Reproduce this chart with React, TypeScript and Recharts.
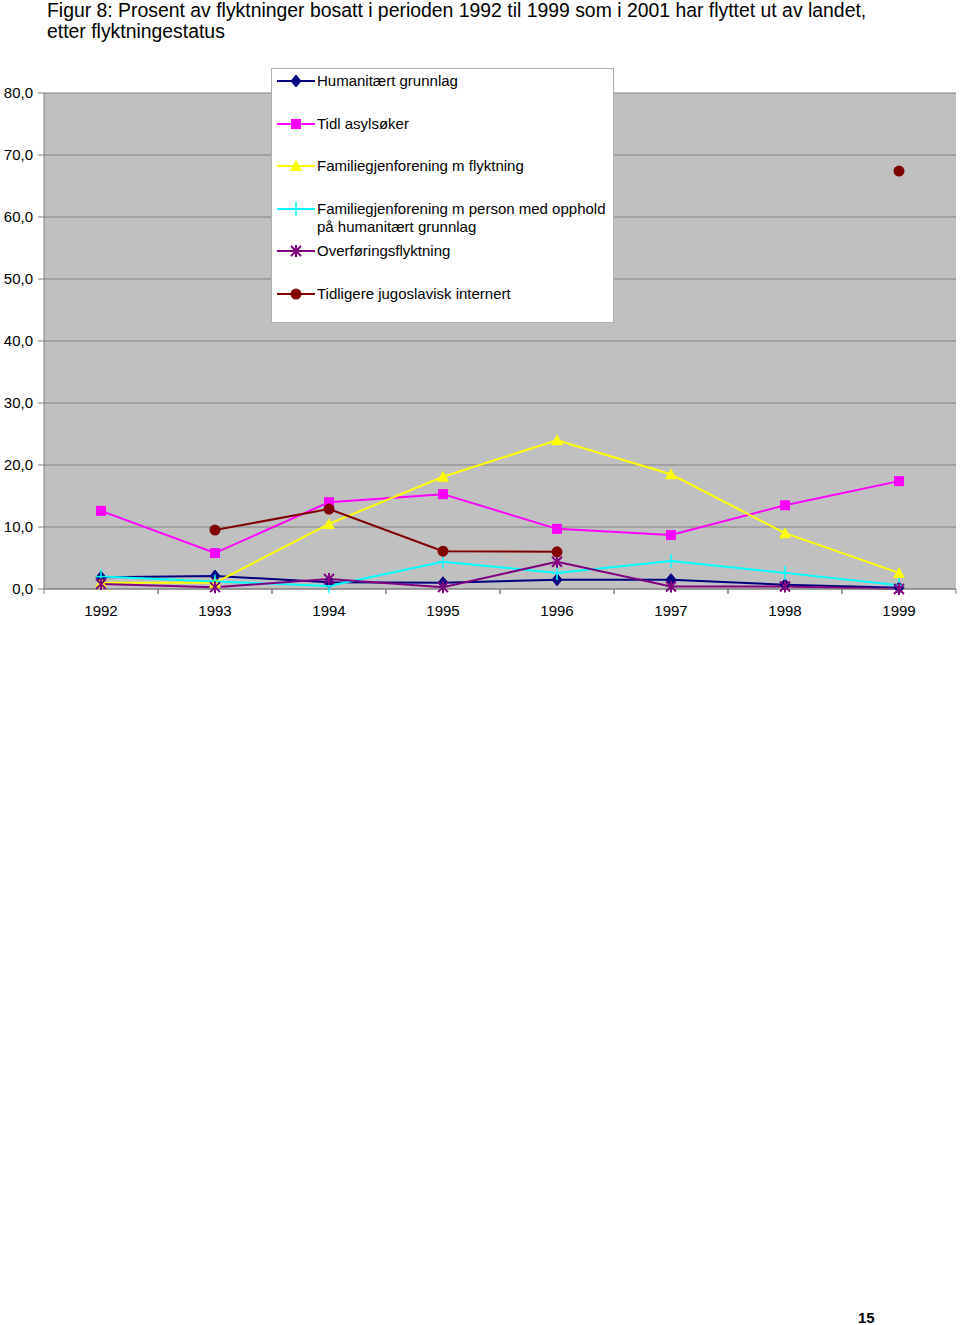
import React from 'react';
import { LineChart, Line, XAxis, YAxis, CartesianGrid, Legend } from 'recharts';

const years = ['1992', '1993', '1994', '1995', '1996', '1997', '1998', '1999'];
const humanitaert = [1.9, 2.1, 1.1, 1.0, 1.5, 1.5, 0.7, 0.2];
const tidlAsyl = [12.6, 5.8, 14.0, 15.3, 9.7, 8.7, 13.5, 17.4];
const famFlyktning = [1.0, 1.0, 10.5, 18.1, 24.0, 18.5, 9.0, 2.6];
const famPerson = [2.0, 1.2, 0.5, 4.4, 2.6, 4.5, 2.6, 0.6];
const overforing = [0.8, 0.3, 1.6, 0.3, 4.4, 0.4, 0.4, 0.0];
const tidligereJugo: (number | null)[] = [null, 9.5, 12.9, 6.1, 6.0, null, null, 67.4];
const yTicks = [0, 10, 20, 30, 40, 50, 60, 70, 80];

const FONT = '"Liberation Sans", Arial, sans-serif';

type Shape = 'diamond' | 'square' | 'triangle' | 'plus' | 'star' | 'circle';

const series: { key: string; name: string; color: string; shape: Shape; values: (number | null)[] }[] = [
  { key: 'hum', name: 'Humanitært grunnlag', color: '#000080', shape: 'diamond', values: humanitaert },
  { key: 'asyl', name: 'Tidl asylsøker', color: '#FF00FF', shape: 'square', values: tidlAsyl },
  { key: 'famf', name: 'Familiegjenforening m flyktning', color: '#FFFF00', shape: 'triangle', values: famFlyktning },
  { key: 'famp', name: 'Familiegjenforening m person med opphold på humanitært grunnlag', color: '#00FFFF', shape: 'plus', values: famPerson },
  { key: 'over', name: 'Overføringsflyktning', color: '#800080', shape: 'star', values: overforing },
  { key: 'jugo', name: 'Tidligere jugoslavisk internert', color: '#800000', shape: 'circle', values: tidligereJugo },
];

const data = years.map((y, i) => {
  const row: Record<string, any> = { year: y };
  series.forEach((s) => {
    row[s.key] = s.values[i];
  });
  return row;
});

function Marker({ shape, cx, cy, color }: { shape: Shape; cx: number; cy: number; color: string }) {
  switch (shape) {
    case 'diamond':
      return <polygon points={`${cx},${cy - 6} ${cx + 5},${cy} ${cx},${cy + 6} ${cx - 5},${cy}`} fill={color} stroke={color} />;
    case 'square':
      return <rect x={cx - 5} y={cy - 5} width={10} height={10} fill={color} />;
    case 'triangle':
      return <polygon points={`${cx},${cy - 6} ${cx + 6},${cy + 5} ${cx - 6},${cy + 5}`} fill={color} />;
    case 'plus':
      return (
        <g stroke={color} strokeWidth={1.5}>
          <line x1={cx - 5} y1={cy} x2={cx + 5} y2={cy} />
          <line x1={cx} y1={cy - 7} x2={cx} y2={cy + 7} />
        </g>
      );
    case 'star':
      return (
        <g stroke={color} strokeWidth={2}>
          <line x1={cx - 5} y1={cy - 5} x2={cx + 5} y2={cy + 5} />
          <line x1={cx - 5} y1={cy + 5} x2={cx + 5} y2={cy - 5} />
          <line x1={cx} y1={cy - 6} x2={cx} y2={cy + 6} />
        </g>
      );
    case 'circle':
    default:
      return <circle cx={cx} cy={cy} r={5.5} fill={color} />;
  }
}

const makeDot = (shape: Shape, color: string) => (props: any) => {
  const { cx, cy, index, value } = props;
  if (cx == null || cy == null || value == null || Number.isNaN(cy)) return <g key={`e-${index}`} />;
  return (
    <g key={`d-${index}`}>
      <Marker shape={shape} cx={cx} cy={cy} color={color} />
    </g>
  );
};

const PLOT_W = 912;
const HALF_BAND = PLOT_W / years.length / 2;

const XTick = (props: any) => {
  const { x, y, payload } = props;
  return (
    <g>
      <line x1={x - HALF_BAND} y1={y} x2={x - HALF_BAND} y2={y + 5} stroke="#808080" />
      <line x1={x + HALF_BAND} y1={y} x2={x + HALF_BAND} y2={y + 5} stroke="#808080" />
      <text x={x} y={y + 27} textAnchor="middle" fontSize={15} fontFamily={FONT} fill="#000">
        {payload.value}
      </text>
    </g>
  );
};

const LegendBox = () => (
  <div
    style={{
      position: 'relative',
      width: 343,
      height: 255,
      boxSizing: 'border-box',
      background: '#fff',
      border: '1px solid #b0b0b0',
      fontFamily: FONT,
      fontSize: 15,
      color: '#000',
    }}
  >
    {series.map((s, i) => {
      const cy = 12 + i * 42.6;
      return (
        <div key={s.key} style={{ position: 'absolute', left: 0, top: cy - 9, width: 343 }}>
          <svg width={44} height={18} style={{ position: 'absolute', left: 4, top: 0 }}>
            <line x1={1} y1={9} x2={39} y2={9} stroke={s.color} strokeWidth={2} />
            <Marker shape={s.shape} cx={20} cy={9} color={s.color} />
          </svg>
          <div style={{ position: 'absolute', left: 45, top: 0, width: 296, lineHeight: '18px', whiteSpace: 'normal' }}>
            {s.name}
          </div>
        </div>
      );
    })}
  </div>
);

export default function App() {
  return (
    <div style={{ position: 'absolute', left: 0, top: 0, width: 960, height: 1325, background: '#fff' }}>
      <div
        style={{
          position: 'absolute',
          left: 47,
          top: 0,
          fontFamily: FONT,
          fontSize: 19.4,
          lineHeight: '21px',
          color: '#000',
          width: 910,
          whiteSpace: 'nowrap',
        }}
      >
        Figur 8: Prosent av flyktninger bosatt i perioden 1992 til 1999 som i 2001 har flyttet ut av landet,
        <br />
        etter flyktningestatus
      </div>
      <div style={{ position: 'absolute', left: 0, top: 0 }}>
        <LineChart width={960} height={640} data={data} margin={{ top: 93, right: 4, bottom: 21, left: 0 }}>
          <CartesianGrid yAxisId="left" vertical={false} stroke="#808080" fill="#C0C0C0" fillOpacity={1} />
          <XAxis
            dataKey="year"
            padding={{ left: HALF_BAND, right: HALF_BAND }}
            height={30}
            tickSize={0}
            tickMargin={0}
            tickLine={false}
            axisLine={{ stroke: '#808080' }}
            tick={<XTick />}
            interval={0}
          />
          <YAxis
            yAxisId="left"
            width={44}
            domain={[0, 80]}
            ticks={yTicks}
            interval={0}
            tickFormatter={(v: number) => v.toFixed(1).replace('.', ',')}
            tickSize={6}
            tickMargin={5}
            tickLine={{ stroke: '#808080' }}
            axisLine={{ stroke: '#808080' }}
            tick={{ fontSize: 15, fontFamily: FONT, fill: '#000' }}
          />
          <YAxis
            yAxisId="right"
            orientation="right"
            width={0}
            domain={[0, 80]}
            tick={false}
            tickLine={false}
            axisLine={{ stroke: '#808080' }}
          />
          <Legend
            layout="vertical"
            align="center"
            verticalAlign="middle"
            content={<LegendBox />}
            wrapperStyle={{ left: 271, top: 68, width: 343, height: 255 }}
          />
          {series.map((s) => (
            <Line
              key={s.key}
              yAxisId="left"
              type="linear"
              dataKey={s.key}
              name={s.name}
              stroke={s.color}
              strokeWidth={2}
              dot={makeDot(s.shape, s.color)}
              activeDot={false}
              connectNulls={false}
              isAnimationActive={false}
            />
          ))}
        </LineChart>
      </div>
      <div
        style={{
          position: 'absolute',
          left: 858,
          top: 1309,
          fontFamily: FONT,
          fontSize: 15,
          fontWeight: 'bold',
          color: '#000',
        }}
      >
        15
      </div>
    </div>
  );
}
